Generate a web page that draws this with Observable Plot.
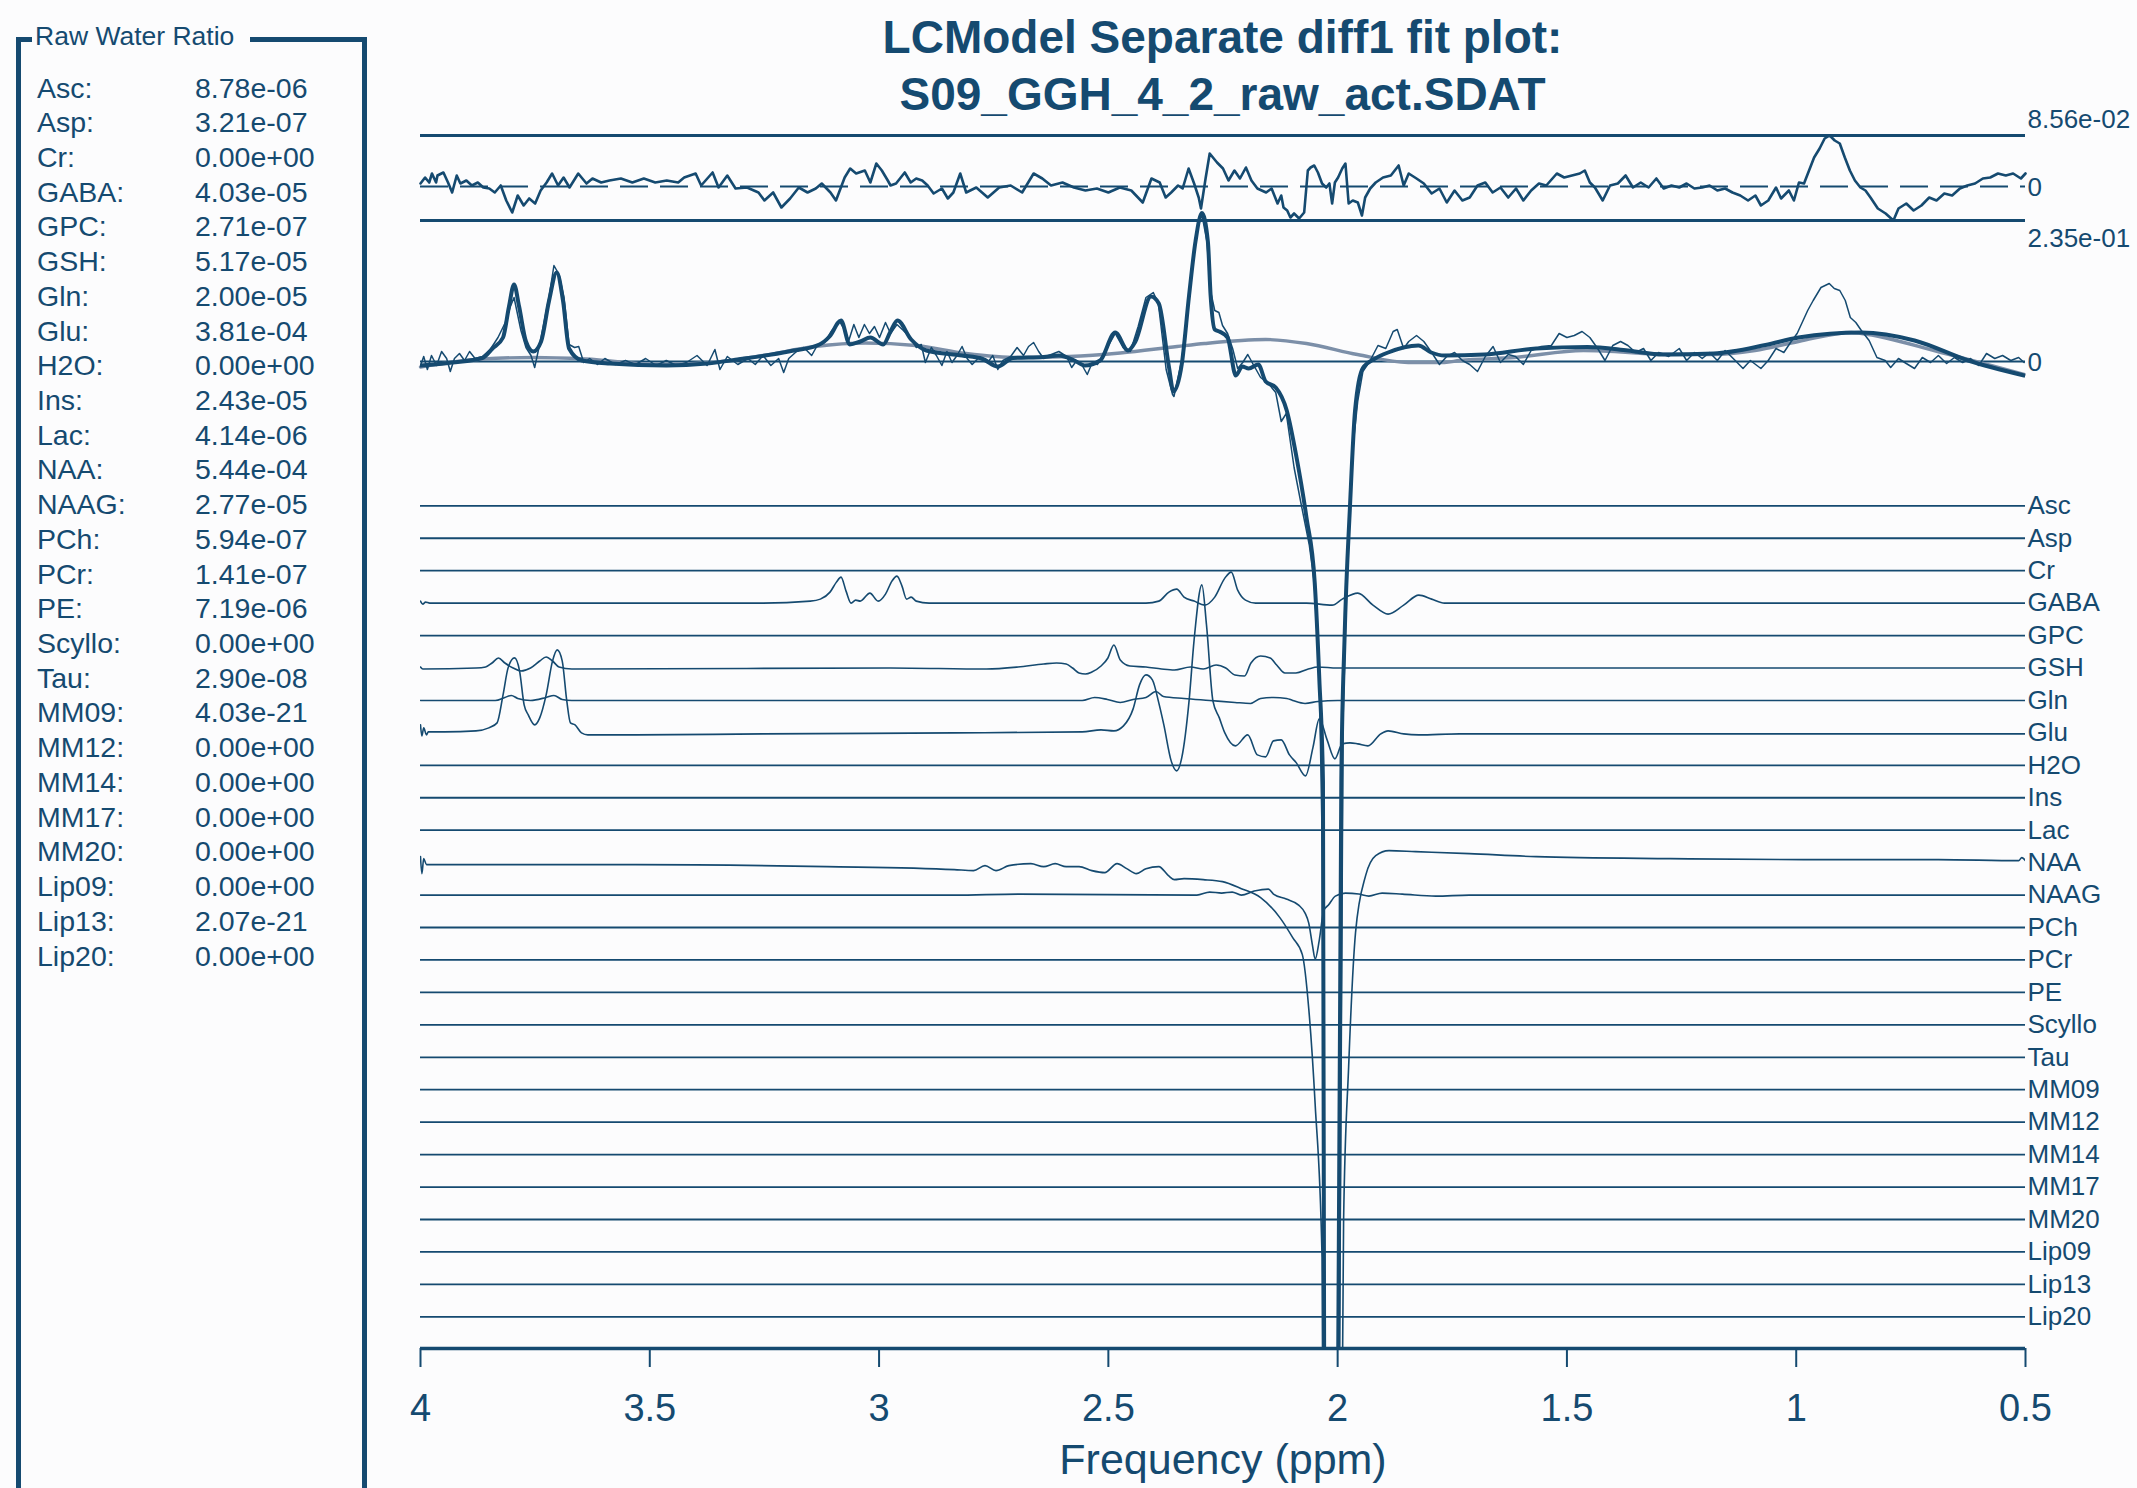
<!DOCTYPE html>
<html>
<head>
<meta charset="utf-8">
<script src="https://cdn.jsdelivr.net/npm/d3@7"></script>
<script src="https://cdn.jsdelivr.net/npm/@observablehq/plot@0.6"></script>
<style>
html,body{margin:0;padding:0;background:#fcfcfd;}
#page{position:relative;width:2137px;height:1488px;overflow:hidden;font-family:"Liberation Sans",Arial,Helvetica,sans-serif;color:#154a70;background:#fcfcfd;}
#chart{position:absolute;left:0;top:0;}
#title{position:absolute;left:420px;width:1605px;top:9px;text-align:center;font-weight:bold;font-size:46px;line-height:57px;white-space:nowrap;}
#box{position:absolute;left:16px;top:37px;width:351px;height:1500px;border:5px solid #154a70;border-bottom:none;box-sizing:border-box;}
#boxTitle{position:absolute;left:32px;top:21px;padding:0 16px 0 3px;background:#fcfcfd;font-size:26.5px;line-height:30px;white-space:nowrap;}
.row{position:absolute;font-size:28.5px;line-height:34px;white-space:nowrap;}
</style>
</head>
<body>
<div id="page">
  <div id="chart"></div>
  <div id="title"></div>
  <div id="box"></div>
  <div id="boxTitle">Raw Water Ratio</div>
  <div id="rows"></div>
</div>
<script>
// ---------------- DATA ----------------
const metabolites = ["Asc","Asp","Cr","GABA","GPC","GSH","Gln","Glu","H2O","Ins","Lac","NAA","NAAG","PCh","PCr","PE","Scyllo","Tau","MM09","MM12","MM14","MM17","MM20","Lip09","Lip13","Lip20"];
const waterRatios = [8.78e-06,3.21e-07,0,4.03e-05,2.71e-07,5.17e-05,2.00e-05,3.81e-04,0,2.43e-05,4.14e-06,5.44e-04,2.77e-05,5.94e-07,1.41e-07,7.19e-06,0,2.90e-08,4.03e-21,0,0,0,0,0,2.07e-21,0];
const ppmTicks = [4,3.5,3,2.5,2,1.5,1,0.5];
const residualScaleLabel = "8.56e-02";
const spectrumScaleLabel = "2.35e-01";
const titleLines = ["LCModel Separate diff1 fit plot:", "S09_GGH_4_2_raw_act.SDAT"];

// residual (data - fit), [ppm, amplitude]
const residual = [[4.000,0.03],[3.990,0.09],[3.981,0.04],[3.975,0.13],[3.966,0.04],[3.963,0.11],[3.950,0.14],[3.940,0.04],[3.931,-0.06],[3.921,0.11],[3.913,0.03],[3.900,0.06],[3.888,0.01],[3.875,0.04],[3.863,-0.01],[3.850,-0.02],[3.838,-0.06],[3.825,0.01],[3.813,-0.14],[3.800,-0.26],[3.788,-0.09],[3.775,-0.19],[3.763,-0.12],[3.750,-0.17],[3.738,-0.04],[3.725,0.04],[3.713,0.13],[3.700,0.01],[3.688,0.09],[3.675,-0.01],[3.656,0.13],[3.638,0.03],[3.625,0.08],[3.606,0.04],[3.588,0.06],[3.563,0.08],[3.538,0.04],[3.513,0.08],[3.488,0.04],[3.463,0.06],[3.438,0.04],[3.425,0.09],[3.400,0.13],[3.388,0.01],[3.363,0.14],[3.350,-0.01],[3.331,0.11],[3.313,-0.02],[3.288,-0.01],[3.263,-0.06],[3.250,-0.14],[3.231,-0.06],[3.213,-0.21],[3.194,-0.12],[3.175,-0.01],[3.156,-0.06],[3.138,-0.02],[3.125,0.03],[3.106,-0.06],[3.094,-0.14],[3.075,0.09],[3.063,0.18],[3.050,0.13],[3.031,0.16],[3.019,0.04],[3.006,0.23],[2.994,0.16],[2.981,0.06],[2.975,0.01],[2.963,0.03],[2.944,0.14],[2.931,0.04],[2.919,0.08],[2.906,0.06],[2.894,0.01],[2.881,-0.07],[2.863,-0.02],[2.850,-0.12],[2.838,-0.06],[2.823,0.13],[2.810,-0.06],[2.788,-0.01],[2.763,-0.11],[2.738,-0.01],[2.713,0.01],[2.688,-0.06],[2.663,0.13],[2.644,0.08],[2.625,0.01],[2.600,0.04],[2.575,-0.01],[2.550,-0.04],[2.525,-0.02],[2.500,-0.06],[2.475,-0.01],[2.450,-0.04],[2.425,-0.16],[2.406,0.08],[2.388,0.04],[2.375,-0.11],[2.363,-0.06],[2.348,0.01],[2.338,-0.02],[2.325,0.18],[2.313,0.03],[2.303,-0.11],[2.298,-0.22],[2.288,0.08],[2.279,0.33],[2.263,0.24],[2.250,0.18],[2.238,0.06],[2.225,0.16],[2.213,0.08],[2.200,0.19],[2.188,0.06],[2.175,-0.02],[2.156,-0.06],[2.144,-0.02],[2.131,-0.17],[2.123,-0.09],[2.118,-0.21],[2.110,-0.24],[2.103,-0.31],[2.095,-0.27],[2.084,-0.32],[2.073,-0.26],[2.065,0.16],[2.059,0.19],[2.051,0.21],[2.043,0.14],[2.034,0.03],[2.025,-0.01],[2.018,0.03],[2.012,-0.17],[2.006,0.04],[1.999,0.09],[1.990,0.18],[1.983,0.23],[1.976,-0.17],[1.967,-0.14],[1.956,-0.16],[1.947,-0.29],[1.940,-0.11],[1.929,-0.02],[1.917,0.04],[1.901,0.09],[1.884,0.11],[1.867,0.21],[1.856,0.01],[1.845,0.13],[1.828,0.08],[1.812,0.03],[1.795,-0.07],[1.778,-0.02],[1.762,-0.16],[1.745,-0.04],[1.728,-0.14],[1.712,-0.11],[1.695,0.01],[1.678,0.04],[1.662,-0.06],[1.645,-0.01],[1.628,-0.11],[1.611,-0.02],[1.595,-0.14],[1.578,-0.04],[1.561,0.03],[1.545,0.01],[1.522,0.13],[1.506,0.09],[1.489,0.11],[1.472,0.13],[1.461,0.16],[1.450,0.04],[1.439,-0.01],[1.422,-0.14],[1.406,0.01],[1.389,0.03],[1.372,0.11],[1.356,-0.01],[1.339,0.04],[1.322,-0.01],[1.305,0.08],[1.289,-0.02],[1.272,0.01],[1.255,-0.01],[1.239,0.03],[1.222,-0.02],[1.205,-0.01],[1.189,0.01],[1.172,-0.04],[1.155,-0.02],[1.139,-0.06],[1.122,-0.09],[1.105,-0.14],[1.089,-0.09],[1.077,-0.19],[1.061,-0.14],[1.044,-0.01],[1.033,-0.12],[1.016,-0.04],[1.005,-0.14],[0.994,0.04],[0.983,0.03],[0.972,0.16],[0.961,0.29],[0.949,0.38],[0.938,0.48],[0.927,0.51],[0.916,0.46],[0.905,0.43],[0.894,0.29],[0.883,0.16],[0.872,0.06],[0.860,-0.01],[0.849,-0.04],[0.838,-0.11],[0.822,-0.22],[0.805,-0.27],[0.788,-0.34],[0.777,-0.22],[0.760,-0.17],[0.744,-0.24],[0.727,-0.19],[0.710,-0.11],[0.694,-0.14],[0.677,-0.07],[0.660,-0.09],[0.643,-0.02],[0.627,0.01],[0.610,0.03],[0.593,0.08],[0.577,0.09],[0.560,0.13],[0.543,0.11],[0.527,0.13],[0.510,0.08],[0.500,0.13]];

// measured spectrum
const spectrum = [[4.000,-0.04],[3.993,0.05],[3.985,-0.08],[3.976,0.06],[3.965,-0.04],[3.954,0.10],[3.943,0.03],[3.935,-0.10],[3.926,0.03],[3.915,0.08],[3.904,0.01],[3.893,0.10],[3.881,0.03],[3.865,0.05],[3.848,0.12],[3.831,0.24],[3.815,0.39],[3.804,0.55],[3.796,0.64],[3.781,0.31],[3.770,0.14],[3.759,0.06],[3.751,-0.06],[3.737,0.24],[3.720,0.64],[3.709,0.96],[3.698,0.87],[3.687,0.64],[3.676,0.17],[3.664,0.14],[3.655,0.15],[3.644,-0.01],[3.631,0.03],[3.614,-0.03],[3.598,0.03],[3.575,-0.03],[3.553,0.01],[3.531,-0.03],[3.509,0.03],[3.486,-0.04],[3.464,0.01],[3.442,-0.04],[3.420,-0.01],[3.397,0.06],[3.375,-0.04],[3.358,0.12],[3.347,-0.08],[3.331,0.05],[3.308,-0.03],[3.286,0.03],[3.270,-0.03],[3.253,0.06],[3.236,-0.04],[3.219,0.03],[3.208,-0.11],[3.197,0.03],[3.180,0.10],[3.164,0.14],[3.147,0.06],[3.136,0.15],[3.119,0.19],[3.103,0.31],[3.086,0.40],[3.075,0.31],[3.066,0.21],[3.055,0.37],[3.044,0.24],[3.032,0.37],[3.021,0.28],[3.010,0.35],[2.999,0.24],[2.986,0.39],[2.975,0.28],[2.961,0.37],[2.947,0.31],[2.930,0.23],[2.919,0.14],[2.908,0.17],[2.899,-0.01],[2.886,0.14],[2.875,0.06],[2.863,-0.04],[2.852,0.10],[2.841,-0.01],[2.830,0.06],[2.819,0.15],[2.808,0.03],[2.797,-0.03],[2.780,0.05],[2.763,-0.01],[2.752,0.06],[2.741,-0.08],[2.730,0.01],[2.713,0.05],[2.699,0.14],[2.685,0.06],[2.674,0.15],[2.663,0.19],[2.652,0.10],[2.641,0.03],[2.630,0.06],[2.619,0.08],[2.608,0.10],[2.591,0.05],[2.580,-0.06],[2.569,0.01],[2.557,-0.04],[2.546,-0.13],[2.535,-0.01],[2.524,-0.03],[2.507,0.10],[2.485,0.28],[2.468,0.14],[2.452,0.10],[2.435,0.35],[2.418,0.64],[2.402,0.69],[2.391,0.58],[2.374,-0.08],[2.360,-0.33],[2.357,-0.35],[2.340,0.01],[2.324,0.66],[2.307,1.31],[2.296,1.47],[2.285,1.20],[2.277,0.70],[2.268,0.51],[2.259,0.49],[2.251,0.36],[2.240,0.28],[2.229,0.13],[2.218,-0.07],[2.207,-0.01],[2.196,0.07],[2.184,-0.03],[2.168,-0.16],[2.151,-0.22],[2.135,-0.31],[2.123,-0.60],[2.112,-0.52],[2.095,-1.06],[2.079,-1.44],[2.062,-1.83],[2.051,-2.21],[2.040,-3.16],[2.033,-5.0],[2.028,-11],[2.012,-14],[1.997,-11],[1.988,-3.55],[1.979,-2.02],[1.967,-0.87],[1.956,-0.39],[1.945,-0.10],[1.929,0.01],[1.912,0.16],[1.895,0.13],[1.879,0.30],[1.870,0.32],[1.856,0.13],[1.845,0.20],[1.828,0.26],[1.812,0.20],[1.795,0.09],[1.778,-0.03],[1.762,0.05],[1.745,0.09],[1.728,0.01],[1.712,-0.03],[1.695,-0.10],[1.678,0.05],[1.661,0.15],[1.645,-0.01],[1.628,0.07],[1.612,0.05],[1.595,-0.03],[1.578,0.11],[1.556,0.15],[1.534,0.16],[1.517,0.28],[1.500,0.24],[1.484,0.26],[1.467,0.30],[1.450,0.24],[1.433,0.13],[1.417,0.01],[1.400,0.16],[1.383,0.20],[1.367,0.16],[1.350,0.09],[1.333,0.13],[1.317,0.01],[1.300,0.09],[1.278,0.05],[1.255,0.13],[1.239,0.01],[1.222,0.09],[1.205,0.03],[1.189,0.09],[1.172,0.01],[1.155,0.11],[1.133,0.01],[1.116,-0.07],[1.100,0.01],[1.077,-0.07],[1.061,0.01],[1.044,0.13],[1.027,0.09],[1.011,0.20],[0.998,0.28],[0.975,0.51],[0.963,0.61],[0.946,0.74],[0.928,0.78],[0.917,0.73],[0.905,0.71],[0.893,0.61],[0.882,0.44],[0.870,0.39],[0.858,0.31],[0.841,0.21],[0.824,0.04],[0.806,0.01],[0.794,-0.06],[0.777,0.03],[0.760,-0.02],[0.742,-0.07],[0.725,0.04],[0.707,-0.01],[0.690,0.06],[0.672,-0.02],[0.655,0.04],[0.637,-0.01],[0.620,0.03],[0.602,-0.04],[0.585,0.08],[0.567,0.03],[0.550,0.06],[0.532,0.01],[0.515,0.04],[0.503,-0.01]];

// model fit (incl. baseline)
const fit = [[4.000,-0.04],[3.931,-0.01],[3.865,0.035],[3.843,0.13],[3.820,0.24],[3.807,0.55],[3.796,0.77],[3.785,0.55],[3.770,0.20],[3.754,0.10],[3.737,0.20],[3.720,0.60],[3.703,0.89],[3.689,0.60],[3.676,0.13],[3.648,0.01],[3.587,-0.02],[3.464,-0.04],[3.375,-0.02],[3.308,0.02],[3.197,0.10],[3.130,0.17],[3.108,0.25],[3.083,0.41],[3.064,0.17],[3.041,0.20],[3.019,0.24],[2.991,0.17],[2.975,0.30],[2.960,0.41],[2.930,0.22],[2.897,0.11],[2.819,0.06],[2.774,0.025],[2.741,-0.05],[2.708,0.035],[2.641,0.045],[2.608,0.06],[2.574,0.01],[2.552,-0.04],[2.518,0.01],[2.485,0.29],[2.457,0.11],[2.441,0.20],[2.407,0.65],[2.390,0.58],[2.368,-0.05],[2.358,-0.30],[2.340,-0.03],[2.324,0.66],[2.310,1.20],[2.296,1.485],[2.283,1.20],[2.277,0.66],[2.268,0.32],[2.258,0.30],[2.240,0.24],[2.222,-0.14],[2.208,-0.05],[2.194,-0.07],[2.173,-0.03],[2.157,-0.20],[2.135,-0.26],[2.111,-0.49],[2.090,-0.95],[2.068,-1.56],[2.050,-2.21],[2.040,-3.17],[2.032,-4.2],[2.029,-11],[2.015,-14],[2.000,-11],[1.992,-4.19],[1.985,-2.78],[1.973,-1.44],[1.962,-0.49],[1.945,-0.065],[1.918,0.03],[1.890,0.09],[1.824,0.16],[1.796,0.09],[1.767,0.06],[1.680,0.07],[1.567,0.13],[1.455,0.145],[1.367,0.11],[1.290,0.07],[1.180,0.08],[1.067,0.165],[0.995,0.24],[0.858,0.29],[0.742,0.21],[0.625,0.01],[0.503,-0.14]];

// baseline
const baseline = [[4.000,-0.055],[3.865,0.025],[3.754,0.04],[3.640,0.025],[3.475,-0.03],[3.365,-0.01],[3.253,0.06],[3.140,0.15],[3.030,0.185],[2.920,0.16],[2.810,0.08],[2.696,0.04],[2.585,0.05],[2.474,0.085],[2.350,0.15],[2.290,0.18],[2.157,0.22],[2.068,0.18],[1.957,0.07],[1.846,-0.01],[1.767,-0.01],[1.734,0.01],[1.615,0.04],[1.464,0.11],[1.265,0.07],[1.180,0.07],[1.090,0.11],[0.995,0.20],[0.880,0.29],[0.858,0.28],[0.684,0.09],[0.503,-0.13]];

// individual metabolite fits (others are flat)
const gaba = [[4.000,0.02],[3.995,-0.01],[3.989,0.01],[3.980,0],[3.253,0],[3.150,0.02],[3.128,0.04],[3.107,0.11],[3.093,0.21],[3.083,0.26],[3.072,0.12],[3.061,0],[3.051,0.03],[3.041,0.02],[3.020,0.10],[3.002,0.02],[2.986,0.09],[2.972,0.22],[2.961,0.27],[2.950,0.17],[2.940,0.04],[2.930,0.06],[2.919,0.02],[2.891,0],[2.418,0],[2.390,0.02],[2.368,0.11],[2.351,0.14],[2.335,0.06],[2.313,0.02],[2.290,-0.02],[2.268,0.06],[2.246,0.25],[2.232,0.31],[2.218,0.13],[2.201,0.03],[2.179,0],[2.068,0],[2.012,-0.02],[1.990,0.04],[1.956,0.10],[1.923,-0.02],[1.890,-0.11],[1.856,-0.02],[1.823,0.08],[1.795,0.04],[1.767,0],[0.500,0]];
const gsh = [[4.000,0.01],[3.995,-0.01],[3.879,0],[3.858,0.01],[3.844,0.05],[3.830,0.10],[3.816,0.05],[3.798,0],[3.781,-0.03],[3.760,0],[3.740,0.07],[3.726,0.11],[3.712,0.07],[3.698,0.01],[3.670,-0.01],[2.975,0],[2.766,-0.01],[2.697,0.01],[2.641,0.04],[2.613,0.05],[2.592,0.04],[2.578,0],[2.564,-0.05],[2.550,-0.06],[2.536,-0.04],[2.516,0.02],[2.501,0.10],[2.488,0.23],[2.474,0.08],[2.453,0.02],[2.418,0.01],[2.384,-0.01],[2.356,-0.02],[2.321,0.01],[2.293,-0.01],[2.265,0.03],[2.244,0],[2.224,-0.07],[2.203,-0.08],[2.189,0.05],[2.168,0.12],[2.147,0.10],[2.133,0.03],[2.115,-0.05],[2.091,-0.05],[2.064,-0.01],[2.043,0.01],[2.001,0],[0.500,0]];
const gln = [[4.000,0],[3.837,0],[3.816,0.03],[3.802,0.05],[3.788,0.02],[3.760,0],[3.726,0.03],[3.709,0.05],[3.691,0.01],[3.670,0],[2.557,0],[2.530,0.03],[2.502,0.01],[2.474,-0.02],[2.446,0.01],[2.418,0.03],[2.396,0.09],[2.380,0.04],[2.335,0.02],[2.279,0],[2.224,-0.02],[2.190,-0.03],[2.168,0.02],[2.140,0.03],[2.111,0.02],[2.098,0],[2.071,-0.03],[2.043,-0.01],[2.000,0],[0.500,0]];
const glu = [[4.000,0.08],[3.997,-0.03],[3.993,0.05],[3.987,-0.02],[3.983,0.01],[3.948,0.01],[3.879,0.02],[3.851,0.05],[3.833,0.10],[3.820,0.38],[3.809,0.65],[3.795,0.75],[3.784,0.62],[3.774,0.28],[3.765,0.18],[3.751,0.08],[3.740,0.15],[3.726,0.38],[3.712,0.72],[3.702,0.83],[3.691,0.72],[3.681,0.32],[3.673,0.10],[3.663,0.08],[3.649,0],[3.635,-0.02],[3.531,-0.02],[3.253,-0.01],[2.836,0],[2.557,0.01],[2.516,0.03],[2.488,0.02],[2.467,0.07],[2.446,0.24],[2.432,0.48],[2.418,0.58],[2.404,0.53],[2.390,0.30],[2.379,0.08],[2.363,-0.28],[2.351,-0.38],[2.340,-0.25],[2.324,0.32],[2.313,0.93],[2.296,1.48],[2.286,1.08],[2.272,0.32],[2.258,0.15],[2.246,0],[2.223,-0.13],[2.196,-0.02],[2.175,-0.22],[2.157,-0.24],[2.140,-0.08],[2.123,-0.07],[2.105,-0.22],[2.090,-0.30],[2.070,-0.43],[2.054,-0.15],[2.040,0.14],[2.023,-0.07],[2.006,-0.26],[1.990,-0.11],[1.973,-0.10],[1.956,-0.11],[1.934,-0.13],[1.906,-0.01],[1.890,0.02],[1.856,-0.01],[1.823,-0.02],[1.734,-0.01],[0.500,-0.01]];
const naa = [[4.000,0.06],[3.997,-0.11],[3.993,0.04],[3.987,-0.02],[3.983,-0.02],[3.531,-0.02],[3.114,-0.04],[2.836,-0.07],[2.794,-0.08],[2.769,-0.03],[2.745,-0.08],[2.717,-0.03],[2.669,-0.01],[2.641,-0.04],[2.616,-0.01],[2.592,-0.04],[2.564,-0.04],[2.536,-0.08],[2.508,-0.10],[2.481,-0.01],[2.460,-0.06],[2.439,-0.11],[2.418,-0.06],[2.390,-0.04],[2.369,-0.13],[2.356,-0.17],[2.335,-0.16],[2.293,-0.17],[2.251,-0.19],[2.210,-0.26],[2.168,-0.35],[2.126,-0.55],[2.098,-0.75],[2.077,-0.92],[2.063,-1.46],[2.049,-2.42],[2.034,-3.95],[2.027,-10.5],[2.012,-13],[1.998,-10.5],[1.987,-3.57],[1.976,-2.04],[1.961,-0.70],[1.939,-0.13],[1.917,0.07],[1.888,0.12],[1.830,0.11],[1.713,0.09],[1.567,0.06],[1.275,0.04],[0.983,0.03],[0.690,0.03],[0.515,0.02],[0.508,0.05],[0.500,0.02]];
const naag = [[4.000,0],[2.836,0],[2.697,0.01],[2.307,0],[2.279,0.03],[2.253,0.02],[2.230,0.03],[2.210,0],[2.182,0.04],[2.151,0.06],[2.140,0.01],[2.112,-0.04],[2.085,-0.10],[2.071,-0.18],[2.063,-0.28],[2.055,-0.50],[2.049,-0.64],[2.040,-0.45],[2.030,-0.15],[2.020,-0.10],[2.005,-0.01],[1.983,0.02],[1.954,0.01],[1.932,-0.01],[1.903,0.02],[1.859,0.01],[1.786,-0.01],[1.713,0],[0.500,0]];
const componentCurves = {GABA: gaba, GSH: gsh, Gln: gln, Glu: glu, NAA: naa, NAAG: naag};

// ---------------- LAYOUT / STYLE ----------------
const W = 2137, H = 1488;
const AXIS_Y = 1348;           // pixel row of the frequency axis
const PX_PER_UNIT = 100;       // vertical pixels per amplitude unit
const RESID_ZERO = 186, SPEC_ZERO = 361, COMP_ZERO0 = 505.3, COMP_STEP = 32.44;
const BLUE = "#154a70", GREY = "#7c8fa8";
const off = px => -px / PX_PER_UNIT;
const compOff = i => off(COMP_ZERO0 + i * COMP_STEP);
const rows = (arr, o) => arr.map(([ppm, v]) => ({ppm, y: o + v}));

const [rMin, rMax] = d3.extent(residual, d => d[1]);
const flatNames = metabolites.filter(m => !(m in componentCurves));

const marks = [
  // residual panel
  Plot.ruleY([off(RESID_ZERO) + rMax, off(RESID_ZERO) + rMin], {x1: () => 4, x2: () => 0.5, stroke: BLUE, strokeWidth: 3}),
  Plot.ruleY([off(RESID_ZERO)], {x1: () => 4, x2: () => 0.5, stroke: BLUE, strokeWidth: 1.8, strokeDasharray: "28,12"}),
  Plot.line(rows(residual, off(RESID_ZERO)), {x: "ppm", y: "y", stroke: BLUE, strokeWidth: 2.6, strokeLinejoin: "round"}),
  // spectrum panel
  Plot.ruleY([off(SPEC_ZERO)], {x1: () => 4, x2: () => 0.5, stroke: BLUE, strokeWidth: 2}),
  Plot.line(rows(baseline, off(SPEC_ZERO)), {x: "ppm", y: "y", stroke: GREY, strokeWidth: 3.4, curve: "monotone-x"}),
  Plot.line(rows(fit, off(SPEC_ZERO)), {x: "ppm", y: "y", stroke: BLUE, strokeWidth: 4, curve: "monotone-x", clip: true}),
  Plot.line(rows(spectrum, off(SPEC_ZERO)), {x: "ppm", y: "y", stroke: BLUE, strokeWidth: 1.5, clip: true}),
  // component rows
  Plot.ruleY(flatNames, {y: d => compOff(metabolites.indexOf(d)), x1: () => 4, x2: () => 0.5, stroke: BLUE, strokeWidth: 1.8}),
  ...Object.entries(componentCurves).map(([name, arr]) =>
    Plot.line(rows(arr, compOff(metabolites.indexOf(name))), {x: "ppm", y: "y", stroke: BLUE, strokeWidth: 1.6, curve: "monotone-x", clip: true})),
  Plot.text(metabolites, {x: () => 0.5, y: (d, i) => compOff(i), text: d => d, textAnchor: "start", dx: 2, fontSize: 26, fill: BLUE}),
  // right-hand scale labels
  Plot.text([residualScaleLabel], {x: () => 0.5, y: () => off(RESID_ZERO) + rMax, text: d => d, textAnchor: "start", dx: 2, dy: -16, fontSize: 26, fill: BLUE}),
  Plot.text(["0"], {x: () => 0.5, y: () => off(RESID_ZERO), text: d => d, textAnchor: "start", dx: 2, dy: 1, fontSize: 26, fill: BLUE}),
  Plot.text([spectrumScaleLabel], {x: () => 0.5, y: () => off(RESID_ZERO) + rMin, text: d => d, textAnchor: "start", dx: 2, dy: 18, fontSize: 26, fill: BLUE}),
  Plot.text(["0"], {x: () => 0.5, y: () => off(SPEC_ZERO), text: d => d, textAnchor: "start", dx: 2, dy: 1, fontSize: 26, fill: BLUE}),
  // frequency axis
  Plot.ruleY([off(AXIS_Y)], {x1: () => 4, x2: () => 0.5, stroke: BLUE, strokeWidth: 3.5}),
  Plot.axisX({ticks: ppmTicks, tickFormat: d => String(d), tickSize: 19, tickPadding: 27, fontSize: 38, strokeWidth: 2, label: null}),
  Plot.text(["Frequency (ppm)"], {x: () => 2.25, y: () => off(AXIS_Y) - 1.12, text: d => d, fontSize: 43, fill: BLUE})
];

const chart = Plot.plot({
  width: W, height: H,
  marginLeft: 420, marginRight: W - 2025, marginTop: 0, marginBottom: H - AXIS_Y,
  x: {domain: [4, 0.5]},
  y: {domain: [off(AXIS_Y), 0], axis: null},
  style: {background: "transparent", color: BLUE, fontFamily: "'Liberation Sans', Arial, Helvetica, sans-serif", overflow: "visible"},
  marks
});
document.getElementById("chart").appendChild(chart);

// title
const titleDiv = document.getElementById("title");
titleLines.forEach((t, i) => { if (i) titleDiv.appendChild(document.createElement("br")); titleDiv.appendChild(document.createTextNode(t)); });

// left panel
function fmtExp(v) { return v.toExponential(2).replace(/e([+-])(\d)$/, "e$10$2"); }
const rowsDiv = document.getElementById("rows");
metabolites.forEach((m, i) => {
  const cy = 87.5 + i * 34.72;
  const a = document.createElement("div");
  a.className = "row"; a.style.left = "37px"; a.style.top = (cy - 17) + "px"; a.textContent = m + ":";
  const b = document.createElement("div");
  b.className = "row"; b.style.left = "195px"; b.style.top = (cy - 17) + "px"; b.textContent = fmtExp(waterRatios[i]);
  rowsDiv.appendChild(a); rowsDiv.appendChild(b);
});
</script>
</body>
</html>
